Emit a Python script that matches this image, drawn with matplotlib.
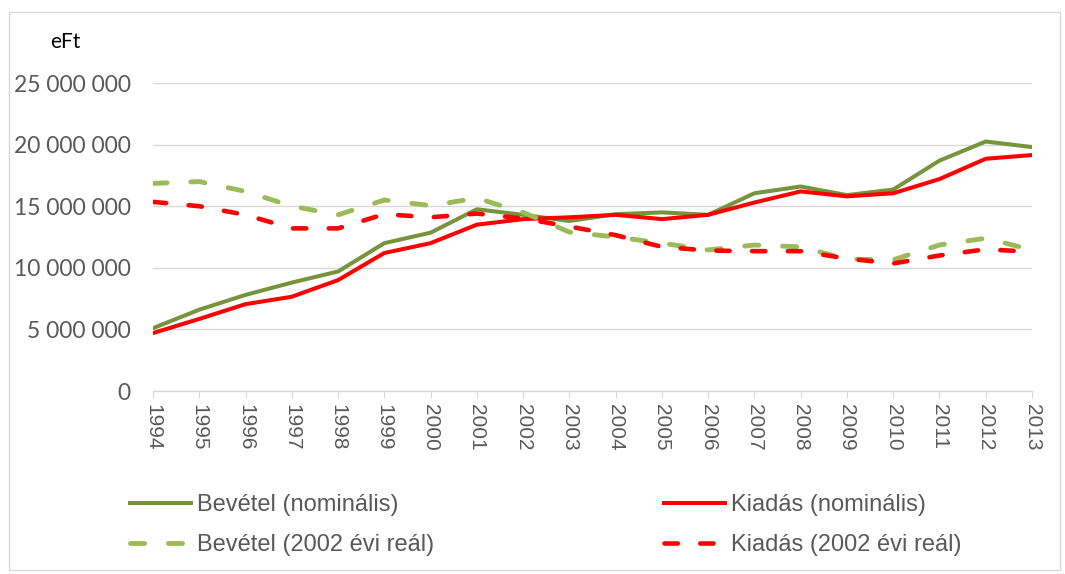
import numpy as np
import matplotlib.pyplot as plt
from matplotlib.patches import Rectangle
from matplotlib.ticker import FuncFormatter

# Data (eFt)
years = list(range(1994, 2014))
bevetel_nom = [5.1, 6.6, 7.8, 8.8, 9.7, 12.0, 12.85, 14.75, 14.3, 13.8,
               14.35, 14.5, 14.3, 16.05, 16.6, 15.9, 16.35, 18.7, 20.25, 19.8]
kiadas_nom = [4.7, 5.85, 7.05, 7.65, 9.0, 11.2, 12.0, 13.5, 13.95, 14.1,
              14.3, 13.95, 14.3, 15.3, 16.2, 15.8, 16.05, 17.2, 18.85, 19.15]
bevetel_real = [16.85, 17.0, 16.2, 15.0, 14.3, 15.5, 15.05, 15.65, 14.5, 12.9,
                12.5, 12.0, 11.45, 11.85, 11.7, 10.7, 10.65, 11.85, 12.4, 11.45]
kiadas_real = [15.35, 15.0, 14.3, 13.2, 13.2, 14.35, 14.1, 14.4, 14.0, 13.35,
               12.65, 11.7, 11.4, 11.35, 11.35, 10.75, 10.35, 11.0, 11.5, 11.3]
labels = ['Bevétel (nominális)', 'Kiadás (nominális)',
          'Bevétel (2002 évi reál)', 'Kiadás (2002 évi reál)']

scale = 1e6
x = np.arange(len(years))

fig = plt.figure(figsize=(10.65, 5.74), dpi=100)
ax = fig.add_axes([153/1065, 1 - 391/574, (1032 - 153)/1065, (391 - 83)/574])

dash = (2.9, 4.9)
l1, = ax.plot(x, np.array(bevetel_nom) * scale, color='#77933C', lw=2.9)
l2, = ax.plot(x, np.array(kiadas_nom) * scale, color='#FF0000', lw=2.9)
l3, = ax.plot(x, np.array(bevetel_real) * scale, color='#9BBB59', lw=3.5,
              dashes=dash, dash_capstyle='round')
l4, = ax.plot(x, np.array(kiadas_real) * scale, color='#FF0000', lw=3.3,
              dashes=dash, dash_capstyle='round')

ax.set_xlim(0, len(years) - 1)
ax.set_ylim(0, 25e6)
ax.set_yticks(np.arange(0, 25e6 + 1, 5e6))
ax.yaxis.set_major_formatter(FuncFormatter(lambda v, p: f'{int(v):,}'.replace(',', ' ')))
ax.grid(axis='y', color='#D9D9D9', lw=1)
ax.set_axisbelow(True)
for s in ['top', 'right', 'left']:
    ax.spines[s].set_visible(False)
ax.spines['bottom'].set_color('#D9D9D9')
ax.spines['bottom'].set_linewidth(1)

ax.set_xticks(x)
ax.set_xticklabels([str(y) for y in years], rotation=270, fontsize=15,
                   family='Liberation Sans', color='#595959')
ax.tick_params(axis='x', length=5, color='#D9D9D9', pad=4)
ax.tick_params(axis='y', length=0, pad=16)
for t in ax.get_yticklabels():
    t.set_fontfamily('Lato')
    t.set_fontsize(16.5)
    t.set_color('#595959')

fig.text(50/1065, 1 - 42/574, 'eFt', fontsize=15, family='Lato', color='black', va='center')

# two one-column legends, placed where the reference has them
legend_kw = dict(loc='center left', frameon=False, handlelength=2.6,
                 handletextpad=0.25, labelspacing=0.75, borderpad=0,
                 borderaxespad=0, prop={'family': 'Liberation Sans', 'size': 17})
leg1 = fig.legend([l1, l3], [labels[0], labels[2]],
                  bbox_to_anchor=(130/1065, 1 - 525/574), **legend_kw)
leg2 = fig.legend([l2, l4], [labels[1], labels[3]],
                  bbox_to_anchor=(664/1065, 1 - 525/574), **legend_kw)
for leg in (leg1, leg2):
    for t in leg.get_texts():
        t.set_color('#595959')

fig.patches.append(Rectangle((9/1065, 1 - 570/574), (1060 - 9)/1065, (570 - 12)/574,
                             transform=fig.transFigure, fill=False,
                             edgecolor='#D9D9D9', lw=1))

fig.savefig('out.png', dpi=100)
